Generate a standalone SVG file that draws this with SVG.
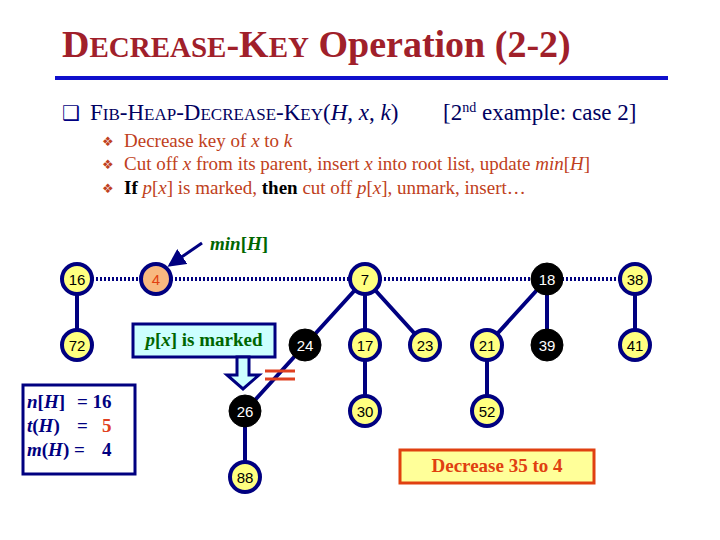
<svg xmlns="http://www.w3.org/2000/svg" width="720" height="540" viewBox="0 0 720 540">
<defs>
<style>
.t{font-family:"Liberation Serif",serif}
.n{stroke:#000080;stroke-width:4;fill:#ffff80}
.b{fill:#000;stroke:#000}
.nt{font-family:"Liberation Sans",sans-serif;font-size:15px;text-anchor:middle}
.e{stroke:#000080;stroke-width:4;fill:none}
.d{stroke:#000080;stroke-width:4;stroke-dasharray:2 2;fill:none}
.bl{font-family:"DejaVu Sans",sans-serif;font-size:13px;fill:#c04020}
</style>
<marker id="ah" markerWidth="6" markerHeight="6" refX="5" refY="3" orient="auto" markerUnits="strokeWidth"><path d="M0,0L6,3L0,6z" fill="#000080"/></marker>
</defs>
<rect width="720" height="540" fill="#fff"/>
<text x="62" y="57" class="t" font-size="38" font-weight="bold" fill="#a0202a">D<tspan font-size="29">ECREASE</tspan>-K<tspan font-size="29">EY</tspan> Operation (2-2)</text>
<rect x="55" y="76" width="613" height="4" fill="#1010cc"/>
<text x="62" y="120" font-family="DejaVu Sans,sans-serif" font-size="20" fill="#000080">❑</text>
<text x="90" y="120" class="t" font-size="23" fill="#000060">F<tspan font-size="17">IB</tspan>-H<tspan font-size="17">EAP</tspan>-D<tspan font-size="17">ECREASE</tspan>-K<tspan font-size="17">EY</tspan>(<tspan font-style="italic">H</tspan>, <tspan font-style="italic">x</tspan>, <tspan font-style="italic">k</tspan>)</text>
<text x="443" y="120" class="t" font-size="23" fill="#000060">[2<tspan font-size="14" dy="-8">nd</tspan><tspan dy="8"> example: case 2]</tspan></text>
<g class="t" font-size="19" fill="#c04020">
<text x="102" y="146" class="bl">❖</text><text x="124" y="147">Decrease key of <tspan font-style="italic">x</tspan> to <tspan font-style="italic">k</tspan></text>
<text x="102" y="169" class="bl">❖</text><text x="124" y="170">Cut off <tspan font-style="italic">x</tspan> from its parent, insert <tspan font-style="italic">x</tspan> into root list, update <tspan font-style="italic">min</tspan>[<tspan font-style="italic">H</tspan>]</text>
<text x="102" y="193" class="bl">❖</text><text x="124" y="194"><tspan fill="#000" font-weight="bold">If</tspan> <tspan font-style="italic">p</tspan>[<tspan font-style="italic">x</tspan>] is marked, <tspan fill="#000" font-weight="bold">then</tspan> cut off <tspan font-style="italic">p</tspan>[<tspan font-style="italic">x</tspan>], unmark, insert…</text>
</g>
<g id="connectors">
<path class="d" d="M92,279H141M171,279H350M380,279H532M562,279H620"/>
<path class="e" d="M77,294V330M365,279L305,345M365,279V411M365,279L425,345M547,279L487,345M547,279V345M635,279V345M487,345V411M245,411V477M305,345L245,411"/>
<path d="M202,243L170,265" stroke="#000080" stroke-width="3" marker-end="url(#ah)"/>
</g>
<text x="210" y="250" class="t" font-size="19" font-weight="bold" font-style="italic" fill="#006600">min<tspan font-style="normal">[</tspan>H<tspan font-style="normal">]</tspan></text>
<g id="n16"><circle class="n" cx="77" cy="279" r="15"/><text class="nt" x="77" y="285">16</text></g>
<g id="n4"><circle class="n" cx="156" cy="279" r="15" style="fill:#f8b880"/><text class="nt" x="156" y="285" fill="#e04010">4</text></g>
<g id="n7"><circle class="n" cx="365" cy="279" r="15"/><text class="nt" x="365" y="285">7</text></g>
<g id="n18"><circle class="b" cx="547" cy="279" r="16"/><text class="nt" x="547" y="285" fill="#fff">18</text></g>
<g id="n38"><circle class="n" cx="635" cy="279" r="15"/><text class="nt" x="635" y="285">38</text></g>
<g id="n72"><circle class="n" cx="77" cy="345" r="15"/><text class="nt" x="77" y="351">72</text></g>
<g id="n24"><circle class="b" cx="305" cy="345" r="16"/><text class="nt" x="305" y="351" fill="#fff">24</text></g>
<g id="n17"><circle class="n" cx="365" cy="345" r="15"/><text class="nt" x="365" y="351">17</text></g>
<g id="n23"><circle class="n" cx="425" cy="345" r="15"/><text class="nt" x="425" y="351">23</text></g>
<g id="n21"><circle class="n" cx="487" cy="345" r="15"/><text class="nt" x="487" y="351">21</text></g>
<g id="n39"><circle class="b" cx="547" cy="345" r="16"/><text class="nt" x="547" y="351" fill="#fff">39</text></g>
<g id="n41"><circle class="n" cx="635" cy="345" r="15"/><text class="nt" x="635" y="351">41</text></g>
<g id="n26"><circle class="b" cx="245" cy="411" r="16"/><text class="nt" x="245" y="417" fill="#fff">26</text></g>
<g id="n30"><circle class="n" cx="365" cy="411" r="15"/><text class="nt" x="365" y="417">30</text></g>
<g id="n52"><circle class="n" cx="487" cy="411" r="15"/><text class="nt" x="487" y="417">52</text></g>
<g id="n88"><circle class="n" cx="245" cy="477" r="15"/><text class="nt" x="245" y="483">88</text></g>
<g id="cut"><path d="M265,371H295M265,379H295" stroke="#e04020" stroke-width="3"/></g>
<g id="marked">
<rect x="133" y="324" width="142" height="33" fill="#ccffff" stroke="#000080" stroke-width="3"/>
<text x="204" y="346" class="t" font-size="19" font-weight="bold" fill="#006600" text-anchor="middle"><tspan font-style="italic">p</tspan>[<tspan font-style="italic">x</tspan>] is marked</text>
<path d="M237,357H249V375H259L243,389L227,375H237Z" fill="#ccffff" stroke="#000080" stroke-width="3"/>
</g>
<g id="stats">
<rect x="23" y="385" width="112" height="89" fill="#fff" stroke="#000080" stroke-width="3"/>
<g class="t" font-size="19" font-weight="bold" fill="#000080">
<text x="27" y="408"><tspan font-style="italic">n</tspan>[<tspan font-style="italic">H</tspan>]</text><text x="77" y="408">= 16</text>
<text x="27" y="432"><tspan font-style="italic">t</tspan>(<tspan font-style="italic">H</tspan>)</text><text x="77" y="432">=</text><text x="102" y="432" fill="#e04020">5</text>
<text x="27" y="456"><tspan font-style="italic">m</tspan>(<tspan font-style="italic">H</tspan>) =</text><text x="102" y="456">4</text>
</g>
</g>
<g id="decrease">
<rect x="400" y="450" width="194" height="33" fill="#ffff99" stroke="#e04010" stroke-width="3"/>
<text x="497" y="472" class="t" font-size="19" font-weight="bold" fill="#e04010" text-anchor="middle">Decrease 35 to 4</text>
</g>
</svg>
